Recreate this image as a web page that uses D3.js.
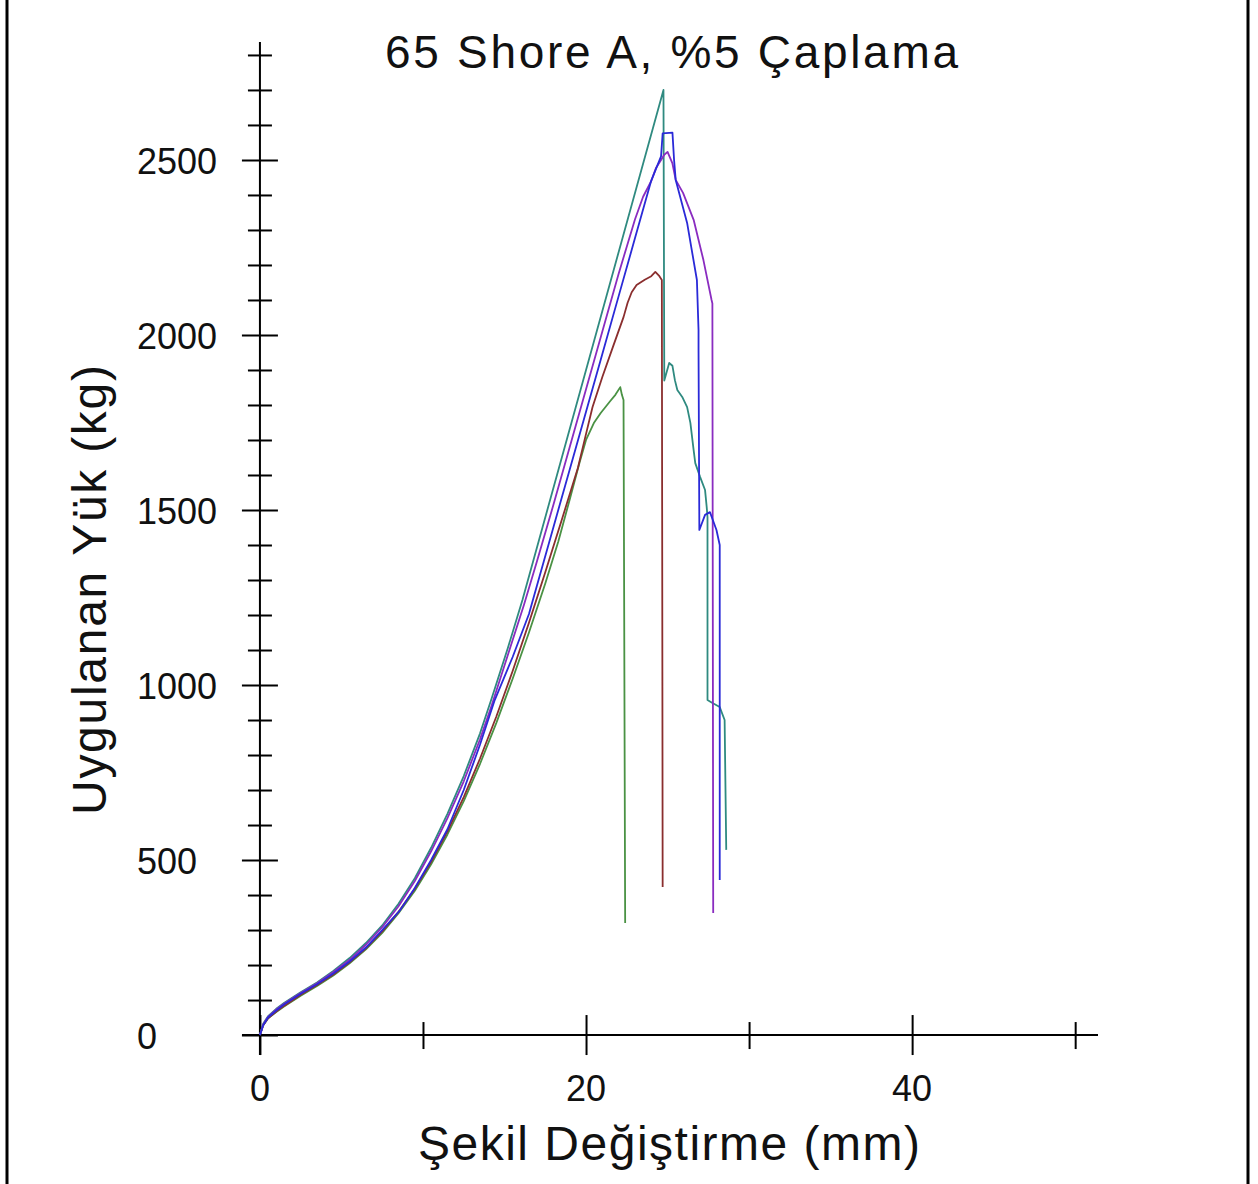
<!DOCTYPE html>
<html>
<head>
<meta charset="utf-8">
<script src="https://cdn.jsdelivr.net/npm/d3@7"></script>
<style>
  html, body { margin: 0; padding: 0; background: #fff; }
  svg { display: block; }
  text { font-family: "Liberation Sans", Arial, Helvetica, sans-serif; fill: #111; }
</style>
</head>
<body>
<svg id="chart" width="1258" height="1184"></svg>
<script>
// ---------- data (mm, kg) ----------
const title = "65 Shore A, %5 Çaplama";
const xTitle = "Şekil Değiştirme (mm)";
const yTitle = "Uygulanan Yük (kg)";

const xTickValues = [0, 10, 20, 30, 40, 50];
const xTickLabels = [0, 20, 40];
const yTickValues = d3.range(0, 2801, 100);
const yTickLabels = [0, 500, 1000, 1500, 2000, 2500];

const seriesGreen = [[0,0],[0.2,28],[0.5,48],[1,66],[1.5,82],[2.5,112],[3.5,140],[4.5,170],[5.5,205],[6.5,245],[7.5,292],[8.5,348],[9.5,412],[10.5,488],[11.5,573],[12.5,668],[13.5,775],[14.5,892],[15.5,1018],[16.5,1150],[17.5,1290],[18.3,1410],[19.0,1530],[19.6,1635],[20.0,1700],[20.5,1750],[20.9,1777],[21.5,1812],[21.8,1829],[22.1,1851],[22.2,1829],[22.3,1814],[22.4,320]];
const seriesBrown = [[0,0],[0.2,28],[0.5,48],[1,67],[1.5,84],[2.5,115],[3.5,143],[4.5,173],[5.5,208],[6.5,248],[7.5,296],[8.5,352],[9.5,418],[10.5,495],[11.5,582],[12.5,680],[13.5,790],[14.5,910],[15.5,1040],[16.5,1178],[17.5,1322],[18.5,1470],[19.5,1620],[20.06,1729],[20.4,1794],[21.0,1880],[21.65,1966],[22.3,2051],[22.55,2092],[22.8,2122],[23.1,2143],[23.6,2158],[24.0,2168],[24.25,2180],[24.5,2168],[24.65,2157],[24.7,423]];
const seriesTeal = [[0,0],[0.2,32],[0.5,54],[1,75],[1.5,92],[2.5,122],[3.5,150],[4.5,183],[5.5,220],[6.5,263],[7.5,313],[8.5,375],[9.5,448],[10.5,535],[11.5,632],[12.5,740],[13.5,862],[14.2,960],[15.2,1105],[16.1,1243],[24.75,2700],[24.8,1870],[25.1,1920],[25.3,1912],[25.45,1871],[25.6,1843],[25.9,1823],[26.2,1794],[26.4,1749],[26.6,1671],[26.7,1634],[27.0,1594],[27.3,1557],[27.4,1509],[27.45,1480],[27.45,957],[27.7,950],[28.2,937],[28.5,900],[28.6,529]];
const seriesPurple = [[0,0],[0.2,30],[0.5,52],[1,73],[1.5,90],[2.5,120],[3.5,148],[4.5,180],[5.5,215],[6.5,258],[7.5,308],[8.5,368],[9.5,440],[10.5,525],[11.5,620],[12.5,725],[13.5,845],[14.2,940],[15.2,1085],[16.2,1230],[17,1355],[18,1515],[19,1680],[20,1845],[21,2010],[22,2175],[23,2330],[23.5,2395],[24,2440],[24.3,2478],[24.6,2500],[24.8,2515],[25.0,2523],[25.3,2490],[25.5,2443],[25.95,2406],[26.6,2329],[27.2,2214],[27.7,2100],[27.75,2090],[27.8,349]];
const seriesBlue = [[0,0],[0.2,28],[0.5,50],[1,70],[1.5,88],[2.5,118],[3.5,145],[4.5,176],[5.5,210],[6.5,250],[7.5,300],[8.6,357],[9.5,420],[10.5,500],[11.5,588],[12.5,700],[13.5,830],[14.4,957],[15.5,1080],[16.5,1203],[17,1286],[18,1451],[19,1616],[20,1781],[21,1946],[22,2111],[23,2276],[24,2441],[24.6,2510],[24.7,2576],[25.3,2578],[25.4,2500],[25.5,2443],[26.2,2320],[26.8,2157],[26.9,2014],[26.9,1957],[26.95,1443],[27.3,1486],[27.6,1494],[28.0,1443],[28.2,1400],[28.2,443]];

const series = [
  { name: "green",  data: seriesGreen,  color: "#4a9244" },
  { name: "brown",  data: seriesBrown,  color: "#8a2e2e" },
  { name: "teal",   data: seriesTeal,   color: "#2f8a80" },
  { name: "purple", data: seriesPurple, color: "#8a2cc0" },
  { name: "blue",   data: seriesBlue,   color: "#2a2ad8" }
];

// ---------- scales ----------
const svg = d3.select("#chart");
const x = d3.scaleLinear().domain([-1.1, 51.4]).range([242, 1098]);
const y = d3.scaleLinear().domain([-57, 2837]).range([1055, 42]);

// border lines
svg.append("line").attr("x1", 7).attr("x2", 7).attr("y1", 0).attr("y2", 1184).attr("stroke", "#000").attr("stroke-width", 3);
svg.append("line").attr("x1", 1248).attr("x2", 1248).attr("y1", 0).attr("y2", 1184).attr("stroke", "#000").attr("stroke-width", 3);

// ---------- axes ----------
const gx = svg.append("g").attr("transform", `translate(0,${y(0)})`)
  .call(d3.axisBottom(x).tickValues(xTickValues).tickSizeOuter(0).tickFormat(""));
gx.select(".domain").attr("stroke", "#000").attr("stroke-width", 2).attr("d", `M${x.range()[0]},0H${x.range()[1]}`);
gx.selectAll(".tick line").attr("stroke", "#000").attr("stroke-width", 2)
  .attr("y1", d => xTickLabels.includes(d) ? -20 : -13)
  .attr("y2", d => xTickLabels.includes(d) ? 20 : 14);
gx.selectAll(".tick text").remove();
gx.selectAll(".lbl").data(xTickLabels).enter().append("text")
  .attr("x", d => x(d)).attr("y", 66).attr("text-anchor", "middle")
  .attr("font-size", 36).text(d => d);

const gy = svg.append("g").attr("transform", `translate(${x(0)},0)`)
  .call(d3.axisLeft(y).tickValues(yTickValues).tickSizeOuter(0).tickFormat(""));
gy.select(".domain").attr("stroke", "#000").attr("stroke-width", 2).attr("d", `M0,${y.range()[0]}V${y.range()[1]}`);
gy.selectAll(".tick line").attr("stroke", "#000").attr("stroke-width", 2)
  .attr("x1", d => yTickLabels.includes(d) ? -18 : -12)
  .attr("x2", d => yTickLabels.includes(d) ? 18 : 12);
gy.selectAll(".tick text").remove();
gy.selectAll(".lbl").data(yTickLabels).enter().append("text")
  .attr("x", 137 - x(0)).attr("y", d => y(d) + 14).attr("text-anchor", "start")
  .attr("font-size", 36).text(d => d);

// ---------- titles ----------
svg.append("text").attr("x", 385).attr("y", 68).attr("font-size", 46)
  .attr("textLength", 573).attr("lengthAdjust", "spacing").text(title);
svg.append("text").attr("x", 418).attr("y", 1160).attr("font-size", 48)
  .attr("textLength", 502).attr("lengthAdjust", "spacing").text(xTitle);
svg.append("text").attr("transform", "translate(106,815) rotate(-90)").attr("font-size", 48)
  .attr("textLength", 450).attr("lengthAdjust", "spacing").text(yTitle);

// ---------- lines ----------
const line = d3.line().x(d => x(d[0])).y(d => y(d[1]));
svg.append("g").selectAll("path").data(series).enter().append("path")
  .attr("d", d => line(d.data))
  .attr("fill", "none")
  .attr("stroke", d => d.color)
  .attr("stroke-width", 1.8)
  .attr("stroke-linejoin", "round");
</script>
</body>
</html>
